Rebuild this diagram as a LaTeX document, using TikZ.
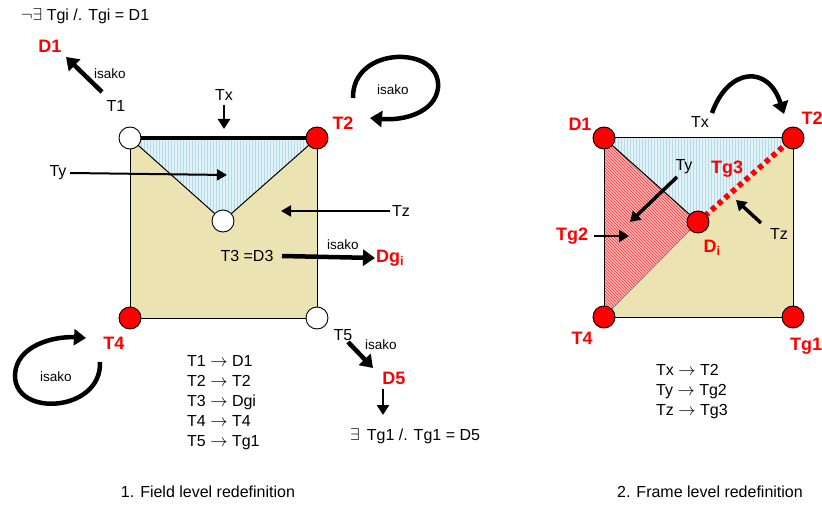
\documentclass[tikz,border=0pt]{standalone}
\usepackage{fontspec}
\setmainfont{Liberation Sans}
\usetikzlibrary{arrows.meta,patterns}
\definecolor{tan}{RGB}{235,228,178}
\definecolor{paleblue}{RGB}{226,242,246}
\definecolor{hatchblue}{RGB}{180,220,232}
\definecolor{pinkfill}{RGB}{248,185,185}
\tikzset{
  vtx/.style={circle,draw=black,line width=0.9pt,minimum size=22pt,inner sep=0pt},
  redvtx/.style={vtx,fill=red},
  whitevtx/.style={vtx,fill=white},
  lbl/.style={font=\fontsize{16}{18}\selectfont,inner sep=1pt},
  redlbl/.style={font=\fontsize{18}{20}\selectfont\bfseries,text=red,inner sep=1pt},
  isa/.style={font=\fontsize{13.5}{15}\selectfont,inner sep=1pt},
  bigarrow/.style={line width=4.5pt,-{Triangle[length=12pt,width=16pt]}},
  midarrow/.style={line width=2.5pt,-{Triangle[length=10pt,width=12pt]}},
  thinarrow/.style={line width=2pt,-{Triangle[length=10pt,width=11pt]}},
  edge/.style={line width=1pt,draw=black},
}
\begin{document}
\begin{tikzpicture}[x=1pt,y=-1pt]
\useasboundingbox (0,0) rectangle (822,505);
% ---------------- Left figure ----------------
\coordinate (L1) at (130,138);
\coordinate (L2) at (317,138);
\coordinate (L3) at (223,221);
\coordinate (L4) at (130,318);
\coordinate (L5) at (317,318);
\fill[tan] (L1) rectangle (L5);
\fill[paleblue] (L1) -- (L2) -- (L3) -- cycle;
\fill[pattern=vertical lines,pattern color=hatchblue] (L1) -- (L2) -- (L3) -- cycle;
\draw[edge] (L1) rectangle (L5);
\draw[edge] (L1) -- (L3) -- (L2);
\draw[line width=4.5pt] (L1) -- (L2);
\node[whitevtx] (T1) at (L1) {};
\node[redvtx] (T2) at (L2) {};
\node[whitevtx] (T3) at (L3) {};
\node[redvtx] (T4) at (L4) {};
\node[whitevtx] (T5) at (L5) {};

\node[lbl,anchor=west] (top) at (20,16) {$\neg\exists$ Tgi /. Tgi = D1};
\node[redlbl] (D1) at (50,46) {D1};
\node[lbl] (T1l) at (116,106) {T1};
\coordinate (a1s) at (102,92);
\draw[bigarrow] (a1s) -- (66,57) coordinate (a1e);
\node[isa] (is1) at (110,74) {isako};

\node[lbl] (Txl) at (224,95) {Tx};
\coordinate (txs) at (224,105);
\coordinate (txe) at (224,129);
\draw[midarrow] (txs) -- (txe);

\node[redlbl] (T2l) at (343,123) {T2};
\coordinate (lp1) at (353,98);
\coordinate (lp2) at (370,118);
\draw[line width=4.5pt,-{Triangle[length=12pt,width=16pt]}] (lp1) .. controls (352,45) and (442,45) .. (438,88) .. controls (435,112) and (405,121) .. (lp2);
\node[isa] (is2) at (393,90) {isako};

\node[lbl] (Tyl) at (58,173) {Ty};
\coordinate (tys) at (70,173);
\coordinate (tye) at (227,175);
\draw[thinarrow] (tys) -- (tye);

\node[lbl] (Tzl) at (401,211) {Tz};
\coordinate (tzs) at (390,211);
\coordinate (tze) at (281,211);
\draw[thinarrow] (tzs) -- (tze);

\node[lbl] (T3l) at (247,256) {T3 =D3};
\node[redlbl,anchor=west] (Dg) at (375,258) {Dg\textsubscript{i}};
\draw[bigarrow] (282,256) coordinate (t3s) -- (Dg.west);
\node[isa] (is3) at (343,245) {isako};

\node[redlbl] (T4l) at (114,343) {T4};
\coordinate (lq1) at (100,362);
\coordinate (lq2) at (86,338);
\draw[line width=4.5pt,-{Triangle[length=12pt,width=16pt]}] (lq1) .. controls (102,412) and (14,418) .. (15,375) .. controls (16,345) and (55,336) .. (lq2);
\node[isa] (is4) at (56,377) {isako};

\node[lbl] (T5l) at (343,335) {T5};
\node[isa] (is5) at (381,345) {isako};
\node[redlbl] (D5) at (394,378) {D5};
\coordinate (t5s) at (348,342);
\draw[bigarrow] (t5s) -- (373,368);
\coordinate (d5s) at (383,389);
\coordinate (d5e) at (383,415);
\draw[midarrow] (d5s) -- (d5e);
\node[lbl,anchor=west] (ex) at (349,436) {$\exists$ \,Tg1 /. Tg1 = D5};

\node[lbl,anchor=west,align=left,font=\fontsize{16}{20}\selectfont] (list1) at (186,403)
 {T1 $\rightarrow$ D1\\T2 $\rightarrow$ T2\\T3 $\rightarrow$ Dgi\\T4 $\rightarrow$ T4\\T5 $\rightarrow$ Tg1};

\node[lbl] (cap1) at (208,492) {1. Field level redefinition};

% ---------------- Right figure ----------------
\coordinate (R1) at (604,138);
\coordinate (R2) at (793,138);
\coordinate (Ri) at (698,222);
\coordinate (R4) at (604,317);
\coordinate (R5) at (793,317);
\fill[tan] (R1) rectangle (R5);
\fill[paleblue] (R1) -- (R2) -- (Ri) -- cycle;
\fill[pattern=vertical lines,pattern color=hatchblue] (R1) -- (R2) -- (Ri) -- cycle;
\fill[pinkfill] (R1) -- (Ri) -- (R4) -- cycle;
\fill[pattern=north west lines,pattern color=red!80] (R1) -- (Ri) -- (R4) -- cycle;
\draw[edge] (R1) rectangle (R5);
\draw[edge] (R1) -- (Ri);
\draw[line width=0.6pt,draw=black!50] (R4) -- (Ri);
\draw[red,line width=5.5pt,dash pattern=on 5pt off 4pt] (Ri) -- (R2);
\node[redvtx] (rD1) at (R1) {};
\node[redvtx] (rT2) at (R2) {};
\node[redvtx] (rDi) at (Ri) {};
\node[redvtx] (rT4) at (R4) {};
\node[redvtx] (rTg1) at (R5) {};

\node[redlbl] (rD1l) at (580,124) {D1};
\node[redlbl] (rT2l) at (812,118) {T2};
\node[redlbl] (rT4l) at (582,338) {T4};
\node[redlbl] (rTg1l) at (806,346) {Tg1};
\node[redlbl] (rDil) at (712,248) {D\textsubscript{i}};
\node[redlbl] (rTg3l) at (727,169) {Tg3};
\node[redlbl] (rTg2l) at (572,236) {Tg2};

\node[lbl] (rTxl) at (700,122) {Tx};
\coordinate (rxs) at (712,113);
\coordinate (rxe) at (784,114);
\draw[line width=4.5pt,-{Triangle[length=12pt,width=16pt]}] (rxs) .. controls (728,68) and (768,64) .. (rxe);

\node[lbl] (rTyl) at (684,167) {Ty};
\coordinate (rys) at (677,177);
\coordinate (rye) at (630,222);
\draw[midarrow,line width=3.5pt] (rys) -- (rye);

\coordinate (rg2s) at (594,236);
\coordinate (rg2e) at (629,236);
\draw[midarrow] (rg2s) -- (rg2e);

\node[lbl] (rTzl) at (779,234) {Tz};
\coordinate (rzs) at (761,223);
\coordinate (rze) at (736,200);
\draw[midarrow,line width=3.5pt] (rzs) -- (rze);

\node[lbl,anchor=west,align=left,font=\fontsize{16}{20}\selectfont] (list2) at (655,392)
 {Tx $\rightarrow$ T2\\Ty $\rightarrow$ Tg2\\Tz $\rightarrow$ Tg3};

\node[lbl] (cap2) at (710,492) {2. Frame level redefinition};
\end{tikzpicture}
\end{document}
